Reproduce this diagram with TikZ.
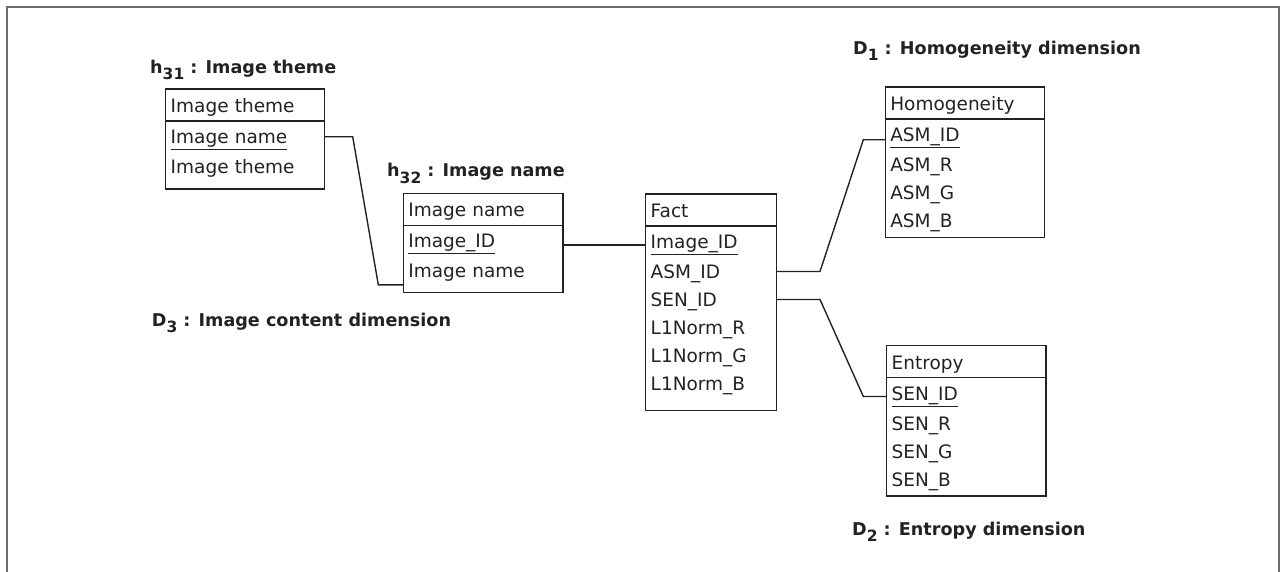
\documentclass[tikz,border=0pt]{standalone}
\usepackage{fontspec}
\setmainfont{DejaVu Sans}
\usetikzlibrary{positioning}
\definecolor{ink}{HTML}{222222}
\definecolor{framegray}{HTML}{6E6E6E}
\newcommand{\lblsub}[1]{\raisebox{-6pt}{\fontsize{15.5pt}{15.5pt}\selectfont #1}}

\begin{document}
\begin{tikzpicture}[
  x=1pt, y=-1pt,
  font=\fontsize{18.5pt}{22pt}\selectfont,
  text=ink,
  head/.style={draw=ink, line width=1.5pt, outer sep=0pt, anchor=north west,
               text width=#1, align=left, inner xsep=5pt, inner ysep=0pt,
               text height=23.5pt, text depth=8.5pt},
  keyrow/.style={text width=#1, align=left, outer sep=0pt, inner xsep=5pt,
                 inner ysep=0pt, text height=22.5pt, text depth=9pt},
  attrow/.style={text width=#1, align=left, outer sep=0pt, inner xsep=5pt,
                 inner ysep=0pt, text height=21pt, text depth=7pt},
  body/.style={draw=ink, line width=1.5pt},
  link/.style={draw=ink, line width=1.4pt},
  dimlabel/.style={anchor=base west, inner sep=0pt,
                   font=\fontsize{17.6pt}{20pt}\selectfont\bfseries}
]
\useasboundingbox (0,0) rectangle (1284,572);
\draw[framegray, line width=2pt] (7.3,572) -- (7.3,6.7) -- (1279,6.7) -- (1279,572);

% h31 : image theme
\node[head=148.6pt] (h31head) at (165.7,89) {Image theme};
\node[keyrow=148.6pt, below=0pt of h31head] (h31key) {\underline{Image name}};
\node[attrow=148.6pt, below=0pt of h31key] (h31name) {Image theme};
\draw[body] (h31key.north west) rectangle ([yshift=-8.5pt]h31name.south east);
\node[dimlabel] (h31lbl) at (150,74) {h\lblsub{31} : Image theme};

% h32 : image name
\node[head=149.7pt] (h32head) at (403.3,193.3) {Image name};
\node[keyrow=149.7pt, below=0pt of h32head] (h32key) {\underline{Image\_ID}};
\node[attrow=149.7pt, below=0pt of h32key] (h32name) {Image name};
\draw[body] (h32key.north west) rectangle ([yshift=-7.9pt]h32name.south east);
\node[dimlabel] (h32lbl) at (387,177) {h\lblsub{32} : Image name};
\node[dimlabel] (d3lbl) at (151.7,326.7) {D\lblsub{3} : Image content dimension};

% fact table
\node[head=121pt] (facthead) at (645.7,194) {Fact};
\node[keyrow=121pt, below=0pt of facthead] (factkey) {\underline{Image\_ID}};
\node[attrow=121pt, below=0pt of factkey] (factasm) {ASM\_ID};
\node[attrow=121pt, below=0pt of factasm] (factsen) {SEN\_ID};
\node[attrow=121pt, below=0pt of factsen] (factr) {L1Norm\_R};
\node[attrow=121pt, below=0pt of factr] (factg) {L1Norm\_G};
\node[attrow=121pt, below=0pt of factg] (factb) {L1Norm\_B};
\draw[body] (factkey.north west) rectangle ([yshift=-12.8pt]factb.south east);

% D1 : homogeneity
\node[head=149pt] (homhead) at (885.3,87) {Homogeneity};
\node[keyrow=149pt, below=0pt of homhead] (homkey) {\underline{ASM\_ID}};
\node[attrow=149pt, below=0pt of homkey] (homr) {ASM\_R};
\node[attrow=149pt, below=0pt of homr] (homg) {ASM\_G};
\node[attrow=149pt, below=0pt of homg] (homb) {ASM\_B};
\draw[body] (homkey.north west) rectangle ([yshift=-3.2pt]homb.south east);
\node[dimlabel] (d1lbl) at (853,55) {D\lblsub{1} : Homogeneity dimension};

% D2 : entropy
\node[head=149.3pt] (enthead) at (886.7,345.7) {Entropy};
\node[keyrow=149.3pt, below=0pt of enthead] (entkey) {\underline{SEN\_ID}};
\node[attrow=149.3pt, below=0pt of entkey] (entr) {SEN\_R};
\node[attrow=149.3pt, below=0pt of entr] (entg) {SEN\_G};
\node[attrow=149.3pt, below=0pt of entg] (entb) {SEN\_B};
\draw[body] (entkey.north west) rectangle ([yshift=-2.8pt]entb.south east);
\node[dimlabel] (d2lbl) at (852,535) {D\lblsub{2} : Entropy dimension};

% links
\draw[link] (h31key.east) -- ++(28.4,0) -- ([xshift=-25pt]h32name.south west) -- (h32name.south west);
\draw[link] ([yshift=-4pt]h32key.east) -- ([yshift=-4pt]h32key.east -| factkey.west);
\draw[link] (factasm.east) -- ++(43.3,0) -- ([xshift=-22pt, yshift=-5pt]homkey.west) -- ([yshift=-5pt]homkey.west);
\draw[link] (factsen.east) -- ++(43.3,0) -- ([xshift=-23.4pt, yshift=-3pt]entkey.west) -- ([yshift=-3pt]entkey.west);
\end{tikzpicture}
\end{document}
